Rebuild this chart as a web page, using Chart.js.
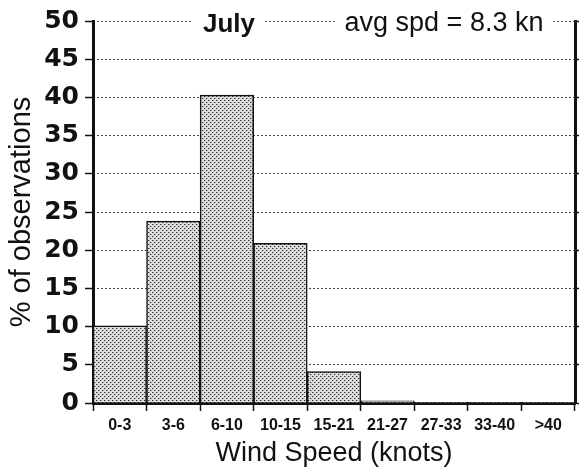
<!DOCTYPE html>
<html>
<head>
<meta charset="utf-8">
<script src="https://cdn.jsdelivr.net/npm/chart.js@4"></script>
<style>
  body { margin: 0; background: #fff; }
  #wrap { width: 581px; height: 472px; }
</style>
</head>
<body>
<div id="wrap"><canvas id="windChart" width="581" height="472"></canvas></div>
<script>
const speedBins = ["0-3", "3-6", "6-10", "10-15", "15-21", "21-27", "27-33", "33-40", ">40"];
const pctObs = [10.1, 23.8, 40.3, 20.9, 4.1, 0.3, 0.1, 0.1, 0.1];
const yTicks = [0, 5, 10, 15, 20, 25, 30, 35, 40, 45, 50];
const monthLabel = "July";
const avgLabel = "avg spd = 8.3 kn";

// stipple fill like the old printout
function makeStipple() {
  const c = document.createElement("canvas");
  c.width = 4; c.height = 4;
  const g = c.getContext("2d");
  g.fillStyle = "#dcdcdc";
  g.fillRect(0, 0, 4, 4);
  g.fillStyle = "#303030";
  g.fillRect(0, 0, 1, 1);
  g.fillRect(2, 2, 1, 1);
  g.fillStyle = "#a4a4a4";
  g.fillRect(1, 0, 1, 1);
  g.fillRect(3, 2, 1, 1);
  return g.createPattern(c, "repeat");
}

const fontFam = "'Liberation Sans', Arial, Helvetica, sans-serif";
const wideFam = "'DejaVu Sans', Verdana, sans-serif";

// header text sitting on the top grid line
const headerText = {
  id: "headerText",
  afterDraw(chart) {
    const ctx = chart.ctx;
    const top = chart.chartArea.top;
    ctx.save();
    ctx.textBaseline = "middle";
    ctx.textAlign = "center";
    ctx.font = "bold 26px " + fontFam;
    let w = ctx.measureText(monthLabel).width;
    ctx.fillStyle = "#fff";
    ctx.fillRect(229 - w / 2 - 10, top - 3, w + 20, 6);
    ctx.fillStyle = "#111";
    ctx.fillText(monthLabel, 229, top + 4);
    ctx.font = "27px " + fontFam;
    w = ctx.measureText(avgLabel).width;
    ctx.fillStyle = "#fff";
    ctx.fillRect(444 - w / 2 - 10, top - 3, w + 20, 6);
    ctx.fillStyle = "#111";
    ctx.fillText(avgLabel, 444, top + 3);
    ctx.restore();
  }
};

new Chart(document.getElementById("windChart"), {
  type: "bar",
  data: {
    labels: speedBins,
    datasets: [{
      data: pctObs,
      backgroundColor: makeStipple(),
      borderColor: "#111",
      borderWidth: 1.5,
      barPercentage: 1,
      categoryPercentage: 1,
    }],
  },
  options: {
    responsive: false,
    animation: false,
    layout: { padding: { top: 20, left: 0, right: 0, bottom: 0 } },
    plugins: { legend: { display: false }, tooltip: { enabled: false } },
    scales: {
      x: {
        afterFit: (s) => { s.height = 69; },
        grid: {
          offset: true,
          drawOnChartArea: false,
          tickLength: 8,
          tickColor: "#111",
          tickWidth: 1.5,
        },
        border: { color: "#111", width: 3 },
        ticks: { color: "#111", font: { family: fontFam, size: 16, weight: "bold" }, padding: 5 },
        title: {
          display: true,
          text: "Wind Speed (knots)",
          color: "#111",
          font: { family: fontFam, size: 27 },
          padding: { top: 0, bottom: 2 },
        },
      },
      // dotted horizontal grid, drawn over the bars
      yGrid: {
        position: "left",
        min: 0,
        max: 50,
        z: 1,
        afterFit: (s) => { s.width = 0; },
        afterBuildTicks: (s) => { s.ticks = yTicks.map((v) => ({ value: v })); },
        grid: { color: "#444", lineWidth: 1, drawTicks: false },
        border: { display: false, dash: [2, 2] },
        ticks: { display: false },
      },
      y: {
        min: 0,
        max: 50,
        z: 1,
        afterFit: (s) => { s.width = 93; },
        afterBuildTicks: (s) => { s.ticks = yTicks.map((v) => ({ value: v })); },
        grid: {
          drawOnChartArea: false,
          tickLength: 8,
          tickColor: "#111",
          tickWidth: 1.5,
        },
        border: { color: "#111", width: 3 },
        ticks: { color: "#111", font: { family: wideFam, size: 25, weight: "bold" }, padding: 6 },
        title: {
          display: true,
          text: "% of observations",
          color: "#111",
          font: { family: fontFam, size: 29 },
          padding: { top: 5, bottom: 0 },
        },
      },
      y2: {
        position: "right",
        min: 0,
        max: 50,
        afterFit: (s) => { s.width = 6; },
        afterBuildTicks: (s) => { s.ticks = yTicks.map((v) => ({ value: v })); },
        grid: { drawOnChartArea: false, tickLength: 4, tickColor: "#111", tickWidth: 1.5 },
        border: { color: "#111", width: 3 },
        ticks: { display: false },
      },
    },
  },
  plugins: [headerText],
});
</script>
</body>
</html>
